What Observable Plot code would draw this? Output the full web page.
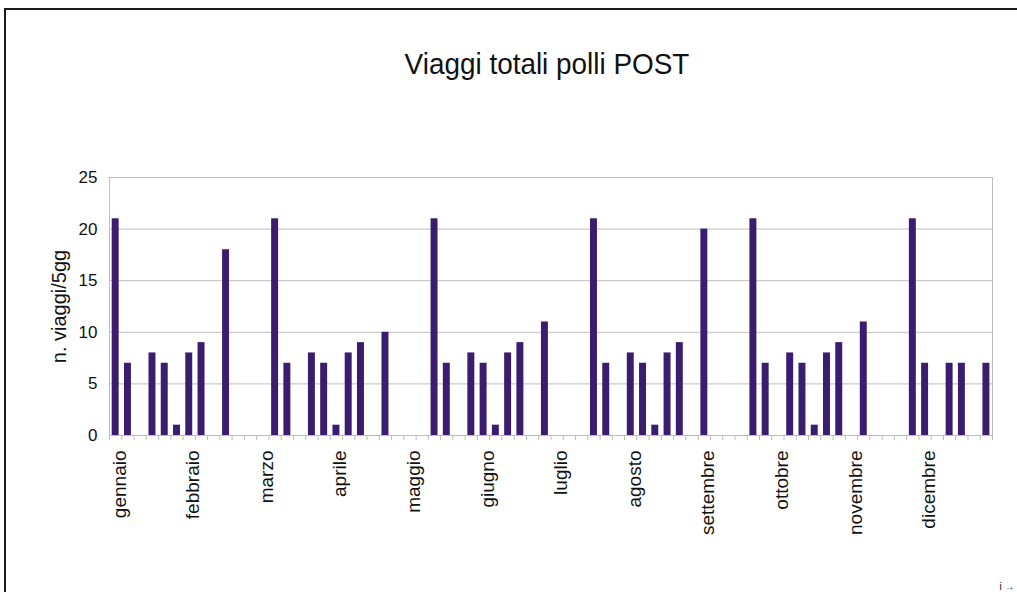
<!DOCTYPE html>
<html>
<head>
<meta charset="utf-8">
<script src="https://cdn.jsdelivr.net/npm/d3@7"></script>
<script src="https://cdn.jsdelivr.net/npm/@observablehq/plot@0.6"></script>
<style>
  html, body { margin: 0; padding: 0; background: #fff; }
  #wrap { position: relative; width: 1017px; height: 592px; overflow: hidden; font-family: "Liberation Sans", Arial, sans-serif; }
  #frame { position: absolute; left: 4px; top: 8px; width: 1040px; height: 620px; border: 2px solid #1a1a1a; box-sizing: border-box; }
  #head { position: relative; height: 120px; }
  #title { position: absolute; top: 49px; left: 547px; transform: translateX(-50%) scaleX(0.93); white-space: nowrap; font-size: 30px; line-height: 1; color: #111; }
  #chart { position: relative; }
</style>
</head>
<body>
<div id="wrap">
  <div id="frame"></div>
  <div id="head"><div id="title">Viaggi totali polli POST</div></div>
  <div id="chart"></div>
</div>
<script>
// 72 five-day periods (6 per month); null = no trips
const values = [
  21, 7, null, 8, 7, 1, 8, 9, null, 18, null, null, null,
  21, 7, null, 8, 7, 1, 8, 9, null, 10, null, null, null,
  21, 7, null, 8, 7, 1, 8, 9, null, 11, null, null, null,
  21, 7, null, 8, 7, 1, 8, 9, null, 20, null, null, null,
  21, 7, null, 8, 7, 1, 8, 9, null, 11, null, null, null,
  21, 7, null, 7, 7, null, 7
];
const months = ["gennaio", "febbraio", "marzo", "aprile", "maggio", "giugno",
                "luglio", "agosto", "settembre", "ottobre", "novembre", "dicembre"];
const periodsPerMonth = 6;
const yTicks = [0, 5, 10, 15, 20, 25];
const yLabel = "n. viaggi/5gg";

const nPeriods = values.length;
const data = values.map((v, i) => ({i, v})).filter(d => d.v != null);
const monthPos = months.map((m, k) => k * periodsPerMonth + 0.5);
const gridColor = "#bdbdbd";

const chart = Plot.plot({
  width: 1017,
  height: 472,
  marginLeft: 109,
  marginRight: 25,
  marginTop: 57,
  marginBottom: 157,
  style: {fontFamily: "'Liberation Sans', Arial, sans-serif", background: "transparent", color: "#111"},
  x: {domain: [0, nPeriods], axis: null},
  y: {domain: [0, 25], axis: null},
  marks: [
    Plot.ruleY(yTicks, {stroke: gridColor, strokeWidth: 1}),
    Plot.ruleX([0, nPeriods], {stroke: gridColor, strokeWidth: 1}),
    Plot.rectY(data, {x1: "i", x2: d => d.i + 1, y1: 0, y2: "v", fill: "#3b1d70", insetLeft: 2.7, insetRight: 2.6}),
    Plot.axisX(d3.range(nPeriods + 1), {tickSize: 5, tickFormat: () => "", stroke: gridColor}),
    Plot.axisX(monthPos, {tickSize: 0, tickPadding: 15, tickRotate: -90, fontSize: 19,
      tickFormat: d => months[Math.round((d - 0.5) / periodsPerMonth)], dx: 4, label: null}),
    Plot.axisY(yTicks, {tickSize: 0, tickPadding: 12, fontSize: 17, label: null}),
    Plot.text([yLabel], {frameAnchor: "left", dx: -50, rotate: -90, textAnchor: "middle", fontSize: 20, fill: "#111"})
  ]
});
document.getElementById("chart").appendChild(chart);
</script>
</body>
</html>
